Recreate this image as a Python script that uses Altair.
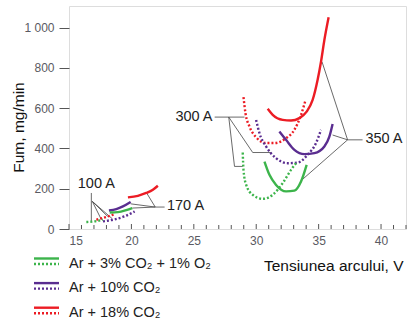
import altair as alt
import pandas as pd

# ---------------- data ----------------
gases = ["Ar + 3% CO₂ + 1% O₂", "Ar + 10% CO₂", "Ar + 18% CO₂"]
gas_colors = ["#3cb44b", "#5a2d90", "#ec1c24"]

red_350_x = [30.92, 31.32, 32.12, 32.79, 33.46, 34.04, 34.52, 34.92, 35.19, 35.46, 35.8]
red_350_y = [597, 567, 542, 539, 551, 583, 641, 741, 831, 939, 1052]
red_300_x = [28.98, 29.14, 29.46, 29.99, 30.79, 31.46, 32.39, 33.06, 33.59, 33.94]
red_300_y = [655, 575, 509, 456, 427, 427, 451, 493, 567, 638]
pur_350_x = [31.86, 32.39, 33.06, 33.86, 34.66, 35.46, 35.86, 36.12]
pur_350_y = [484, 443, 393, 372, 377, 410, 459, 522]
pur_300_x = [29.99, 30.26, 30.79, 31.59, 32.52, 33.32, 34.12, 34.79, 35.19]
pur_300_y = [542, 476, 410, 352, 327, 330, 369, 427, 493]
grn_350_x = [30.66, 31.06, 31.59, 32.39, 33.06, 33.59, 34.04]
grn_350_y = [335, 269, 219, 187, 191, 236, 319]
grn_300_x = [28.92, 28.98, 29.19, 29.72, 30.52, 31.32, 32.12, 32.79, 33.19]
grn_300_y = [380, 294, 220, 170, 150, 170, 228, 294, 327]
red_170_x = [19.72, 20.52, 21.19, 21.72, 22.12]
red_170_y = [157, 165, 179, 195, 215]
pur_170_x = [18.2, 18.79, 19.32, 19.94]
pur_170_y = [92, 99, 112, 134]
grn_170_x = [18.26, 18.92, 19.59, 20.07]
grn_170_y = [82, 84, 94, 104]
red_100_x = [17.19, 17.99, 18.66]
red_100_y = [46, 60, 74]
pur_100_x = [17.72, 18.52, 19.46, 20.26]
pur_100_y = [38, 46, 63, 87]
grn_100_x = [16.39, 17.06, 17.72]
grn_100_y = [35, 38, 46]

curves = [
    (2, "350 A", "solid", red_350_x, red_350_y),
    (2, "300 A", "dot", red_300_x, red_300_y),
    (1, "350 A", "solid", pur_350_x, pur_350_y),
    (1, "300 A", "dot", pur_300_x, pur_300_y),
    (0, "350 A", "solid", grn_350_x, grn_350_y),
    (0, "300 A", "dot", grn_300_x, grn_300_y),
    (2, "170 A", "solid", red_170_x, red_170_y),
    (1, "170 A", "solid", pur_170_x, pur_170_y),
    (0, "170 A", "solid", grn_170_x, grn_170_y),
    (2, "100 A", "dot", red_100_x, red_100_y),
    (1, "100 A", "dot", pur_100_x, pur_100_y),
    (0, "100 A", "dot", grn_100_x, grn_100_y),
]

# annotation labels
ann_text = ["100 A", "170 A", "300 A", "350 A"]
ann_x = [17.19, 22.85, 26.5, 38.75]
ann_y = [222, 112, 558, 446]
ann_align = ["center", "left", "right", "left"]

# leader line segments (x, y, x2, y2)
lead_x = [16.79, 16.87, 16.87, 16.87, 21.91, 21.91, 21.91, 21.91, 26.67, 27.8, 28.26, 27.8, 29.72, 37.32, 37.32, 37.32, 37.32]
lead_y = [179, 137, 137, 137, 109, 109, 109, 109, 556, 556, 311, 556, 380, 443, 443, 443, 443]
lead_x2 = [16.79, 17.6, 18.1, 18.45, 22.66, 21.19, 19.94, 20.07, 29.06, 28.26, 28.92, 29.72, 31.19, 38.52, 35.27, 36.12, 33.59]
lead_y2 = [38, 46, 62, 52, 109, 182, 125, 104, 556, 311, 311, 380, 380, 443, 831, 467, 240]

x_ticks = list(range(15, 43))
y_ticks = [0, 200, 400, 600, 800, 1000]

# ---------------- build tables ----------------
rows = []
for cid, (g, cur, style, xs, ys) in enumerate(curves):
    for i, (xv, yv) in enumerate(zip(xs, ys)):
        rows.append({"cid": cid, "gas": gases[g], "current": cur, "style": style,
                     "V": xv, "F": yv, "ord": i})
df = pd.DataFrame(rows)
ann_df = pd.DataFrame({"t": ann_text, "x": ann_x, "y": ann_y, "a": ann_align})
lead_df = pd.DataFrame({"x": lead_x, "y": lead_y, "x2": lead_x2, "y2": lead_y2})
tick_df = pd.DataFrame({"v": x_ticks, "major": [v % 5 == 0 for v in x_ticks]})

W, H = 337, 223
FONT = "Liberation Sans, Arial, sans-serif"

xscale = alt.Scale(domain=[15, 42], nice=False, zero=False)
yscale = alt.Scale(domain=[0, 1108], nice=False)
cscale = alt.Scale(domain=gases, range=gas_colors)

xaxis = alt.Axis(values=[15, 20, 25, 30, 35, 40], ticks=False, domain=False, grid=False,
                 labelFont=FONT, labelFontSize=12, labelColor="#5a5a62", labelPadding=6,
                 title="Tensiunea arcului, V", titleFont=FONT, titleFontSize=15.5,
                 titleFontWeight="normal", titleColor="#111", titleAnchor="end",
                 titleAlign="right", titleBaseline="middle", titleX=W - 3, titleY=36)
yaxis = alt.Axis(values=y_ticks, domain=False, grid=False, tickSize=10, tickColor="#555",
                 labelExpr="replace(format(datum.value, ','), ',', ' ')",
                 labelFont=FONT, labelFontSize=12, labelColor="#5a5a62", labelPadding=5,
                 title="Fum, mg/min", titleFont=FONT, titleFontSize=15.5,
                 titleFontWeight="normal", titleColor="#111", titleAngle=-90,
                 titleAlign="center", titleBaseline="middle", titleX=-51, titleY=121)

base = alt.Chart(df)
solid = base.transform_filter(alt.datum.style == "solid").mark_line(
    strokeWidth=2.4, interpolate="monotone").encode(
    x=alt.X("V:Q", scale=xscale, axis=xaxis),
    y=alt.Y("F:Q", scale=yscale, axis=yaxis),
    color=alt.Color("gas:N", scale=cscale, legend=None),
    detail="cid:N", order="ord:Q")
dotted = base.transform_filter(alt.datum.style == "dot").mark_line(
    strokeWidth=2.4, interpolate="monotone", strokeDash=[2, 2]).encode(
    x=alt.X("V:Q", scale=xscale),
    y=alt.Y("F:Q", scale=yscale),
    color=alt.Color("gas:N", scale=cscale, legend=None),
    detail="cid:N", order="ord:Q")

leaders = alt.Chart(lead_df).mark_rule(color="#444", strokeWidth=0.8).encode(
    x=alt.X("x:Q", scale=xscale), y=alt.Y("y:Q", scale=yscale),
    x2="x2:Q", y2="y2:Q")

ann_layers = []
for t, a in zip(ann_text, ann_align):
    ann_layers.append(
        alt.Chart(ann_df[ann_df.t == t]).mark_text(
            font=FONT, fontSize=14.5, color="#222", align=a, baseline="middle").encode(
            x=alt.X("x:Q", scale=xscale), y=alt.Y("y:Q", scale=yscale), text="t:N"))

minor = alt.Chart(tick_df[~tick_df.major]).mark_rule(color="#555", strokeWidth=1).encode(
    x=alt.X("v:Q", scale=xscale), y=alt.value(H), y2=alt.value(H - 4))
major = alt.Chart(tick_df[tick_df.major]).mark_rule(color="#555", strokeWidth=1).encode(
    x=alt.X("v:Q", scale=xscale), y=alt.value(H), y2=alt.value(H - 5))

# custom legend (solid over dotted swatch)
leg_layers = []
leg_df = pd.DataFrame({"gas": gases})
for i, g in enumerate(gases):
    y0 = 252.5 + i * 24.6
    one = leg_df[leg_df.gas == g]
    leg_layers.append(alt.Chart(one).mark_rule(strokeWidth=2.4).encode(
        x=alt.value(-35), x2=alt.value(-10), y=alt.value(y0),
        color=alt.Color("gas:N", scale=cscale, legend=None)))
    leg_layers.append(alt.Chart(one).mark_rule(strokeWidth=2.4, strokeDash=[2, 2]).encode(
        x=alt.value(-35), x2=alt.value(-10), y=alt.value(y0 + 5.5),
        color=alt.Color("gas:N", scale=cscale, legend=None)))
    leg_layers.append(alt.Chart(one).mark_text(
        font=FONT, fontSize=14.5, color="#222", align="left", baseline="middle").encode(
        x=alt.value(0), y=alt.value(y0 + 5), text="gas:N"))

chart = alt.layer(minor, major, leaders, dotted, solid, *ann_layers, *leg_layers).properties(
    width=W, height=H,
    autosize=alt.AutoSizeParams(type="none"),
    padding={"left": 69, "top": 6, "right": 4, "bottom": 97},
).configure_view(stroke="#555", strokeWidth=1).configure(background="white")

chart.save("out.html", embed_options={"renderer": "svg", "actions": False})
